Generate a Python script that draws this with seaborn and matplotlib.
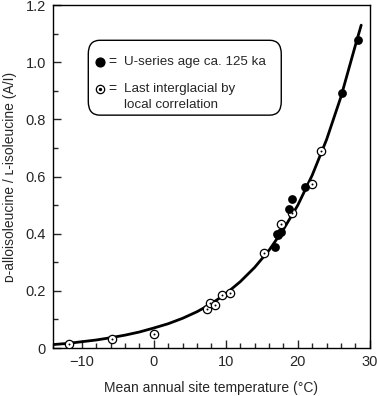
import matplotlib
matplotlib.use("Agg")
import matplotlib.pyplot as plt
import seaborn as sns
import pandas as pd
from matplotlib.patches import FancyBboxPatch
from matplotlib.ticker import MultipleLocator, FixedLocator

# fitted curve
curve_temp = [-14, -12, -10, -8, -6, -4, -2, 0, 2, 4, 6, 8, 10, 12, 14, 16, 18, 20, 22, 24, 26, 28, 28.8]
curve_ratio = [0.012, 0.016, 0.022, 0.028, 0.036, 0.045, 0.056, 0.070, 0.085, 0.104, 0.127, 0.155,
               0.190, 0.232, 0.282, 0.342, 0.415, 0.500, 0.605, 0.730, 0.880, 1.060, 1.130]

# U-series dated sites (filled)
useries_temp = [16.8, 17.3, 17.6, 17.1, 18.75, 19.2, 21.0, 26.1, 28.4]
useries_ratio = [0.352, 0.395, 0.407, 0.40, 0.487, 0.521, 0.562, 0.891, 1.077]

# last interglacial by local correlation (open)
corr_temp = [-11.8, -5.8, 0.0, 7.4, 7.8, 8.55, 9.4, 10.6, 15.3, 17.6, 19.2, 21.9, 23.2]
corr_ratio = [0.015, 0.033, 0.048, 0.136, 0.158, 0.149, 0.184, 0.191, 0.331, 0.433, 0.473, 0.573, 0.688]

curve = pd.DataFrame({"temp": curve_temp, "ratio": curve_ratio})
useries = pd.DataFrame({"temp": useries_temp, "ratio": useries_ratio})
corr = pd.DataFrame({"temp": corr_temp, "ratio": corr_ratio})

sns.set_style("ticks")
plt.rcParams["font.family"] = ["Liberation Sans", "DejaVu Sans"]

fig = plt.figure(figsize=(3.77, 3.96), dpi=100)
ax = fig.add_axes([0.1406, 0.1212, 0.8404, 0.8658])

sns.lineplot(data=curve, x="temp", y="ratio", color="black", linewidth=2, ax=ax)
sns.scatterplot(data=corr, x="temp", y="ratio", marker="o", s=36, color="white",
                edgecolor="black", linewidth=0.9, ax=ax, zorder=3)
sns.scatterplot(data=corr, x="temp", y="ratio", marker="o", s=2, color="black",
                edgecolor="black", linewidth=0, ax=ax, zorder=4)
sns.scatterplot(data=useries, x="temp", y="ratio", marker="o", s=40, color="black",
                edgecolor="black", linewidth=0, ax=ax, zorder=5)

ax.set_xlim(-14, 30)
ax.set_ylim(0, 1.2)
ax.xaxis.set_major_locator(FixedLocator([-10, 0, 10, 20, 30]))
ax.xaxis.set_minor_locator(MultipleLocator(2))
ax.yaxis.set_major_locator(MultipleLocator(0.2))
ax.yaxis.set_minor_locator(MultipleLocator(0.1))
ax.set_xticklabels(["\u221210", "0", "10", "20", "30"])
ax.set_yticks([0, 0.2, 0.4, 0.6, 0.8, 1.0, 1.2])
ax.set_yticklabels(["0", "0.2", "0.4", "0.6", "0.8", "1.0", "1.2"])
ax.tick_params(which="both", direction="in", labelsize=10.5, width=1, top=False, right=False)
ax.tick_params(which="major", length=6, pad=5)
ax.tick_params(which="minor", length=3.5)
for s in ax.spines.values():
    s.set_linewidth(1)
    s.set_color("black")

ax.set_xlabel("Mean annual site temperature (\u00b0C)", fontsize=10, labelpad=9)
ax.set_ylabel("\u1d05-alloisoleucine / \u029f-isoleucine (A/I)", fontsize=10, labelpad=6)

# legend box
box = FancyBboxPatch((-9.1, 0.815), 26.8, 0.262, boxstyle="round,pad=0,rounding_size=1.6",
                     mutation_aspect=0.03, facecolor="white", edgecolor="black", linewidth=1,
                     transform=ax.transData, zorder=2)
ax.add_patch(box)
ax.scatter([-7.45], [1.0], s=40, color="black", zorder=3)
ax.scatter([-7.45], [0.905], s=36, color="white", edgecolor="black", linewidth=0.9, zorder=3)
ax.scatter([-7.45], [0.905], s=2, color="black", zorder=4)
ax.text(-5.8, 1.0, "=", fontsize=10, va="center", ha="center", zorder=4)
ax.text(-5.8, 0.905, "=", fontsize=10, va="center", ha="center", zorder=4)
ax.text(-4.1, 1.0, "U-series age ca. 125 ka", fontsize=9.6, va="center", ha="left", zorder=4)
ax.text(-4.1, 0.905, "Last interglacial by", fontsize=9.6, va="center", ha="left", zorder=4)
ax.text(-4.1, 0.85, "local correlation", fontsize=9.6, va="center", ha="left", zorder=4)

fig.savefig("out.png", dpi=100)
